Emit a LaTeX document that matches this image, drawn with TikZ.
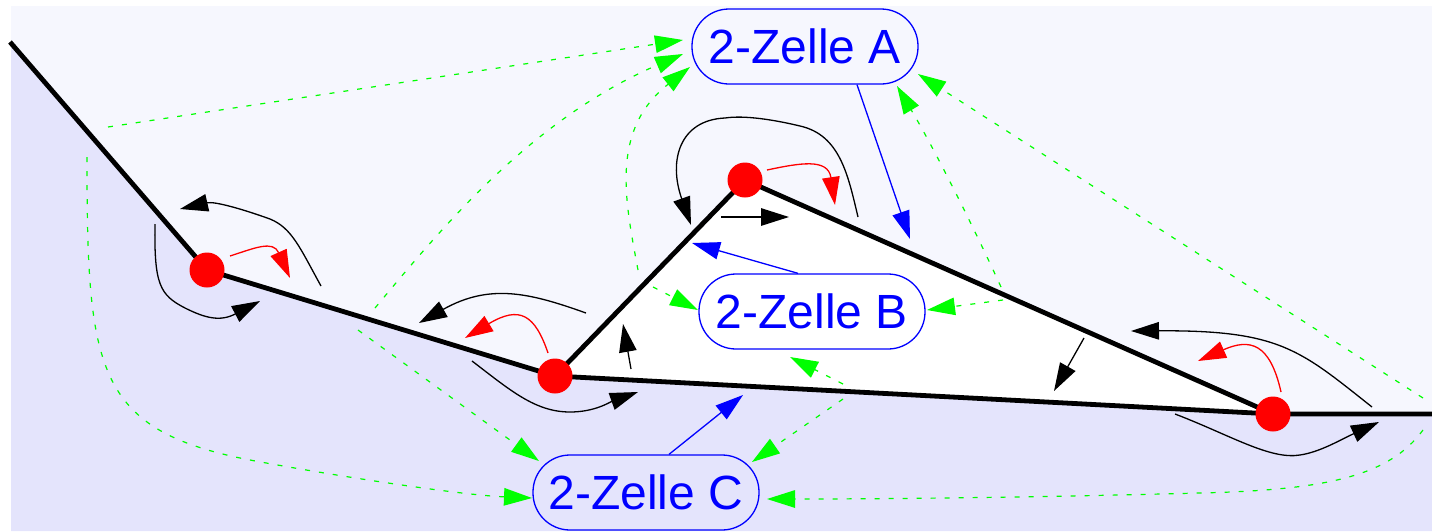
\documentclass[tikz,border=0pt]{standalone}
\usepackage{fontspec}
\setmainfont{Liberation Sans}
\usetikzlibrary{arrows.meta}
\definecolor{upbg}{RGB}{246,247,254}
\definecolor{lowbg}{RGB}{228,228,252}
\definecolor{gr}{RGB}{0,255,0}
\begin{document}
\begin{tikzpicture}[x=1pt,y=-1pt,
  tipstyle/.style={-{Triangle[length=28pt,width=17.5pt]}},
  blk/.style={draw=black,line width=1.3pt,tipstyle},
  redarr/.style={draw=red,line width=1.3pt,tipstyle},
  bluearr/.style={draw=blue,line width=1.3pt,tipstyle},
  grarr/.style={draw=gr,line width=1.2pt,dash pattern=on 5pt off 9pt,tipstyle},
  bdry/.style={draw=black,line width=4.8pt},
  cell/.style={draw=blue,line width=1.3pt,rounded corners=37pt,minimum width=226pt,
    minimum height=75pt,inner sep=0pt,text=blue,font=\fontsize{48}{58}\selectfont}]
\useasboundingbox (0,0) rectangle (1432,531);
% vertices
\coordinate (L0) at (10,42);
\coordinate (P1) at (207,270);
\coordinate (P2) at (555,376);
\coordinate (P3) at (745,180);
\coordinate (P4) at (1273,414);
\coordinate (R0) at (1432,414);
% regions
\fill[upbg] (11,6) rectangle (1432,531);
\fill[lowbg] (11,43.2) -- (P1) -- (P2) -- (P4) -- (R0) -- (1432,531) -- (11,531) -- cycle;
\fill[white] (P2) -- (P3) -- (P4) -- cycle;
% boundary
\draw[bdry] (L0) -- (P1) -- (P2) -- (P4) -- (R0);
\draw[bdry] (P2) -- (P3) -- (P4);
\foreach \p in {P1,P2,P3,P4} \fill[red] (\p) circle (17.5pt);
% cells
\node[cell] (A) at (805,46.5) {2-Zelle A};
\node[cell] (B) at (812,311.5) {2-Zelle B};
\node[cell] (C) at (646,492.5) {2-Zelle C};
% blue arrows
\coordinate (bA) at (910,239);
\coordinate (bB) at (692,243);
\coordinate (bC) at (743,395);
\draw[bluearr] ([xshift=52pt]A.south) -- (bA);
\draw[bluearr] ([xshift=-14pt]B.north) -- (bB);
\draw[bluearr] ([xshift=23pt]C.north) -- (bC);
% black and red arrows around vertices
\coordinate (k1s) at (321,286); \coordinate (k1e) at (180,209);
\draw[blk] (k1s) .. controls (300,248) and (292,228) .. (270,219) .. controls (245,210) and (215,201) .. (k1e);
\coordinate (k2s) at (155,224); \coordinate (k2e) at (260,301);
\draw[blk] (k2s) .. controls (154,285) and (160,295) .. (185,308) .. controls (205,318) and (220,322) .. (k2e);
\coordinate (r1s) at (230,256); \coordinate (r1e) at (290,278);
\draw[redarr] (r1s) .. controls (255,248) and (273,240) .. (r1e);
\coordinate (k3s) at (586,313); \coordinate (k3e) at (419,323);
\draw[blk] (k3s) .. controls (530,293) and (490,283) .. (k3e);
\coordinate (k4s) at (472,361); \coordinate (k4e) at (638,392);
\draw[blk] (k4s) .. controls (510,390) and (535,412) .. (570,412) .. controls (595,412) and (610,402) .. (k4e);
\coordinate (r2s) at (548,353); \coordinate (r2e) at (465,338);
\draw[redarr] (r2s) .. controls (535,315) and (520,305) .. (r2e);
\coordinate (k5s) at (631,369); \coordinate (k5e) at (623,324);
\draw[blk] (k5s) -- (k5e);
\coordinate (k6s) at (858,217); \coordinate (k6e) at (691,225);
\draw[blk] (k6s) .. controls (848,175) and (840,135) .. (800,126) .. controls (775,120) and (745,115) .. (725,118) .. controls (680,120) and (668,160) .. (k6e);
\coordinate (r3s) at (767,170); \coordinate (r3e) at (835,205);
\draw[redarr] (r3s) .. controls (800,163) and (828,158) .. (r3e);
\coordinate (k7s) at (721,217); \coordinate (k7e) at (789,217);
\draw[blk] (k7s) -- (k7e);
\coordinate (k8s) at (1372,407); \coordinate (k8e) at (1131,331);
\draw[blk] (k8s) .. controls (1300,350) and (1280,330) .. (k8e);
\coordinate (r4s) at (1281,392); \coordinate (r4e) at (1198,361);
\draw[redarr] (r4s) .. controls (1270,343) and (1250,338) .. (r4e);
\coordinate (k9s) at (1175,414); \coordinate (k9e) at (1379,422);
\draw[blk] (k9s) .. controls (1230,435) and (1270,460) .. (1300,455) .. controls (1320,452) and (1340,440) .. (k9e);
\coordinate (k10s) at (1084,338); \coordinate (k10e) at (1054,391);
\draw[blk] (k10s) -- (k10e);
% green dashed arrows: edges -> cells
\coordinate (gA1s) at (108,127);  \coordinate (tA1) at (683,40);
\coordinate (gA2s) at (375,308);  \coordinate (tA2) at (683,54);
\coordinate (gA3s) at (638,270);  \coordinate (tA3) at (690,67);
\coordinate (gA4s) at (1001,287); \coordinate (tA4) at (897,86);
\coordinate (gA5s) at (1423,398); \coordinate (tA5) at (918,74);
\coordinate (gB1s) at (653,287);  \coordinate (tB1) at (698,310);
\coordinate (gB2s) at (1003,300); \coordinate (tB2) at (927,310);
\coordinate (gB3s) at (843,384);  \coordinate (tB3) at (790,357);
\coordinate (gC1s) at (87,157);   \coordinate (tC1) at (532,498);
\coordinate (gC2s) at (358,330);  \coordinate (tC2) at (539,461);
\coordinate (gC3s) at (843,399);  \coordinate (tC3) at (752,462);
\coordinate (gC4s) at (1423,430); \coordinate (tC4) at (767,499);
\draw[grarr] (gA1s) -- (tA1);
\draw[grarr] (gA2s) .. controls (440,230) and (530,120) .. (tA2);
\draw[grarr] (gA3s) .. controls (625,200) and (610,130) .. (tA3);
\draw[grarr] (gA4s) .. controls (975,230) and (935,150) .. (tA4);
\draw[grarr] (gA5s) -- (tA5);
\draw[grarr] (gB1s) -- (tB1);
\draw[grarr] (gB2s) -- (tB2);
\draw[grarr] (gB3s) -- (tB3);
\draw[grarr] (gC1s) .. controls (87,370) and (95,430) .. (250,460) .. controls (330,475) and (460,495) .. (tC1);
\draw[grarr] (gC2s) -- (tC2);
\draw[grarr] (gC3s) -- (tC3);
\draw[grarr] (gC4s) .. controls (1390,475) and (1330,490) .. (1200,493) .. controls (1050,497) and (900,499) .. (tC4);
\end{tikzpicture}
\end{document}
